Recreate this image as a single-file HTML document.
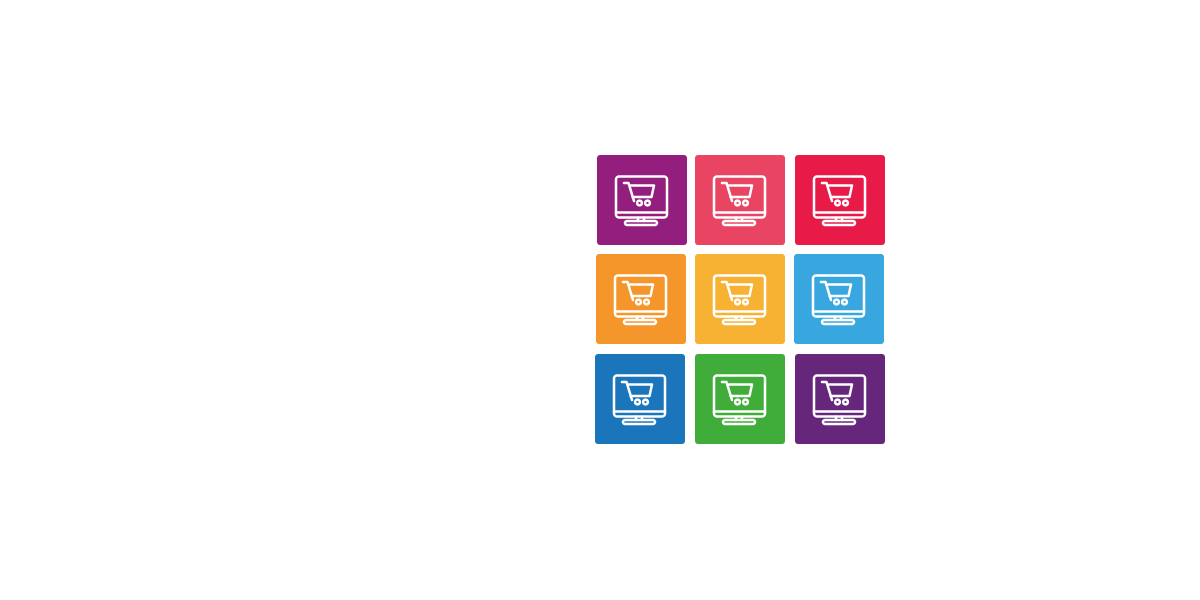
<!DOCTYPE html>
<html><head><style>
body{margin:0;width:1200px;height:600px;background:#fff;position:relative;overflow:hidden}
.t{position:absolute;width:90px;height:90px;border-radius:3px}
.t svg{position:absolute;left:0;top:0}
</style></head><body>
<svg width="0" height="0" style="position:absolute"><defs>
<g id="ic" fill="none" stroke="#fff" stroke-width="2.5" stroke-linejoin="round" stroke-linecap="round">
<rect x="19" y="21.5" width="51" height="41" rx="3"/>
<line x1="19" y1="57.5" x2="70" y2="57.5"/>
<path d="M41 62.5v3.5M47 62.5v3.5"/>
<path d="M30 66h28a2 2 0 0 1 0 4H30a2 2 0 0 1 0-4z"/>
<path d="M27 28h4.5l5.5 18"/>
<path d="M32.5 30.5H57l-2.5 11.5H35.5"/>
<circle cx="42.5" cy="48" r="2.4"/>
<circle cx="50.5" cy="48" r="2.4"/>
</g></defs></svg>
<div class="t" style="left:597px;top:155px;background:#931e7e"><svg width="90" height="90"><use href="#ic"/></svg></div>
<div class="t" style="left:695px;top:155px;background:#e94563"><svg width="90" height="90"><use href="#ic"/></svg></div>
<div class="t" style="left:795px;top:155px;background:#e81b48"><svg width="90" height="90"><use href="#ic"/></svg></div>
<div class="t" style="left:596px;top:254px;background:#f4962a"><svg width="90" height="90"><use href="#ic"/></svg></div>
<div class="t" style="left:695px;top:254px;background:#f7b234"><svg width="90" height="90"><use href="#ic"/></svg></div>
<div class="t" style="left:794px;top:254px;background:#38a7df"><svg width="90" height="90"><use href="#ic"/></svg></div>
<div class="t" style="left:595px;top:354px;background:#1a75bb"><svg width="90" height="90"><use href="#ic"/></svg></div>
<div class="t" style="left:695px;top:354px;background:#40ac3a"><svg width="90" height="90"><use href="#ic"/></svg></div>
<div class="t" style="left:795px;top:354px;background:#66267c"><svg width="90" height="90"><use href="#ic"/></svg></div>
</body></html>
